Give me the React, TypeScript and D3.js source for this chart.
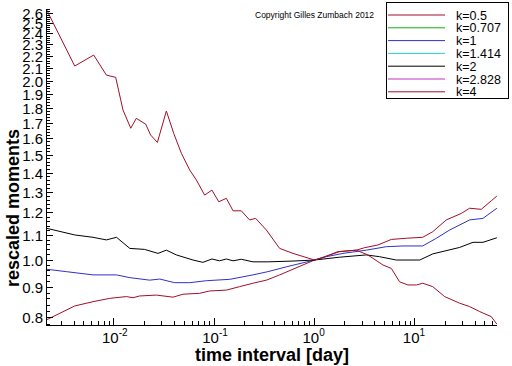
import React from 'react';
import * as d3 from 'd3';

// time interval [day] vs rescaled moment, one array per k
const k05: [number, number][] = [
  [0.00212, 0.793], [0.00406, 0.837], [0.00618, 0.851], [0.00906, 0.862], [0.0133, 0.868],
  [0.0155, 0.864], [0.018, 0.87], [0.0265, 0.873], [0.0388, 0.866], [0.0488, 0.876],
  [0.0715, 0.879], [0.0899, 0.887], [0.132, 0.89], [0.179, 0.902], [0.243, 0.914],
  [0.331, 0.925], [0.449, 0.944], [1, 1.0], [1.26, 1.013], [1.78, 1.033], [2.61, 1.039],
  [3.16, 1.049], [4.29, 1.06], [5.83, 1.083], [8.22, 1.088], [12.0, 1.092], [15.1, 1.116],
  [20.6, 1.168], [29.1, 1.198], [35.2, 1.222], [46.0, 1.217], [57.9, 1.258], [65.8, 1.281],
];
const k1: [number, number][] = [
  [0.00212, 0.965], [0.00335, 0.956], [0.00618, 0.944], [0.0106, 0.944], [0.0144, 0.934],
  [0.0227, 0.925], [0.0286, 0.929], [0.0403, 0.916], [0.0569, 0.916], [0.0834, 0.923],
  [0.143, 0.928], [0.243, 0.944], [0.343, 0.956], [0.524, 0.974], [1, 1.0], [1.31, 1.013],
  [1.92, 1.026], [3.28, 1.039], [5.2, 1.053], [7.61, 1.056], [12.0, 1.056], [16.4, 1.088],
  [22.2, 1.123], [35.2, 1.168], [47.8, 1.175], [65.8, 1.222],
];
const k2: [number, number][] = [
  [0.00212, 1.131], [0.00406, 1.102], [0.00618, 1.092], [0.0084, 1.081], [0.0106, 1.092],
  [0.0144, 1.046], [0.0202, 1.042], [0.0275, 1.026], [0.0333, 1.039], [0.0419, 1.02],
  [0.0614, 1.0], [0.0771, 0.991], [0.0948, 1.004], [0.113, 0.997], [0.132, 1.004],
  [0.154, 0.997], [0.186, 1.003], [0.243, 0.993], [0.343, 0.993], [0.61, 0.996], [1, 1.0],
  [1.78, 1.011], [3.28, 1.02], [4.45, 1.013], [6.54, 1.0], [11.2, 1.0], [15.1, 1.024],
  [28.0, 1.05], [38.0, 1.071], [47.8, 1.071], [65.8, 1.09],
];
const k4: [number, number][] = [
  [0.00212, 2.64], [0.00406, 2.12], [0.00628, 2.212], [0.0084, 2.047], [0.0104, 2.029],
  [0.0123, 1.788], [0.0147, 1.666], [0.0167, 1.731], [0.0207, 1.693], [0.0232, 1.623],
  [0.0271, 1.577], [0.0333, 1.781], [0.0394, 1.634], [0.047, 1.512], [0.0569, 1.417],
  [0.0664, 1.363], [0.0802, 1.286], [0.0948, 1.311], [0.111, 1.253], [0.132, 1.27],
  [0.154, 1.21], [0.186, 1.21], [0.225, 1.168], [0.259, 1.175], [0.331, 1.123],
  [0.449, 1.046], [0.61, 1.026], [1, 1.0], [1.17, 1.007], [1.71, 1.033], [2.61, 1.039],
  [3.4, 1.02], [4.81, 0.981], [5.83, 0.968], [7.05, 0.919], [8.53, 0.908], [10.4, 0.908],
  [12.0, 0.914], [15.1, 0.902], [19.8, 0.868], [28.0, 0.846], [35.2, 0.835], [44.3, 0.819],
  [57.9, 0.803], [65.8, 0.78],
];
// no points visible for these in the picture
const k0707: [number, number][] = [];
const k1414: [number, number][] = [];
const k2828: [number, number][] = [];

const legendLabels = ['k=0.5', 'k=0.707', 'k=1', 'k=1.414', 'k=2', 'k=2.828', 'k=4'];
const legendColors = ['#a0102a', '#10b010', '#3030c8', '#20d0d0', '#000000', '#c030c0', '#a0102a'];
const seriesData = [k05, k0707, k1, k1414, k2, k2828, k4];

const yTickValues = [0.8, 0.9, 1.0, 1.1, 1.2, 1.3, 1.4, 1.5, 1.6, 1.7, 1.8, 1.9, 2.0, 2.1, 2.2, 2.3, 2.4, 2.5, 2.6];
const xDecades = [-2, -1, 0, 1];

const W = 512;
const H = 366;
const left = 46, right = 497, top = 9, bottom = 325;

const App = () => {
  const x = d3.scaleLog().domain([0.0021, 66]).range([left, right]);
  const y = d3.scaleLog().domain([0.7775, 2.644]).range([bottom, top]);

  const line = d3.line<[number, number]>()
    .x(d => x(d[0]))
    .y(d => y(d[1]));

  // minor ticks
  const yMinor = d3.range(78, 265, 2).map(v => v / 100).filter(v => v >= 0.7775 && v <= 2.644);
  const xMinor: number[] = [];
  for (let e = -3; e <= 1; e++) {
    for (let m = 2; m <= 9; m++) {
      const v = m * Math.pow(10, e);
      if (v >= 0.0021 && v <= 66) xMinor.push(v);
    }
  }

  const font = 'Arial, "Liberation Sans", sans-serif';

  return (
    <svg width={W} height={H} style={{position: 'absolute', left: 0, top: 0, background: '#fff'}}
      fontFamily={font}>
      <rect x={0} y={0} width={W} height={H} fill='#fff' />

      {/* curves */}
      <g fill='none' strokeWidth={1}>
        {seriesData.map((d, i) => d.length ? (
          <path key={i} d={line(d) || ''} stroke={legendColors[i]} />
        ) : null)}
      </g>

      {/* y axis */}
      <g shapeRendering='crispEdges' stroke='#000'>
        <line x1={left} x2={left} y1={top} y2={bottom} />
        {yMinor.map(v => (
          <line key={'ym' + v} x1={left} x2={left + 4} y1={y(v)} y2={y(v)} />
        ))}
        {yTickValues.map(v => (
          <line key={'yM' + v} x1={left} x2={left + 7} y1={y(v)} y2={y(v)} />
        ))}
      </g>
      <g fontSize={15} textAnchor='end' fill='#000'>
        {yTickValues.map(v => (
          <text key={'yl' + v} x={43} y={y(v) + 5.5}>{v.toFixed(1)}</text>
        ))}
      </g>

      {/* x axis */}
      <g shapeRendering='crispEdges' stroke='#000'>
        <line x1={left} x2={right} y1={bottom} y2={bottom} />
        {xMinor.map(v => (
          <line key={'xm' + v} x1={x(v)} x2={x(v)} y1={bottom} y2={bottom - 4} />
        ))}
        {xDecades.map(e => (
          <line key={'xM' + e} x1={x(Math.pow(10, e))} x2={x(Math.pow(10, e))} y1={bottom} y2={bottom - 7} />
        ))}
      </g>
      <g fill='#000'>
        {xDecades.map(e => (
          <text key={'xl' + e} x={x(Math.pow(10, e)) - 12} y={343} fontSize={15}>
            10<tspan fontSize={10} dy={-7}>{e}</tspan>
          </text>
        ))}
      </g>

      {/* axis titles */}
      <text x={272} y={361} textAnchor='middle' fontSize={18} fontWeight='bold'>time interval [day]</text>
      <text transform='translate(19,208) rotate(-90)' textAnchor='middle' fontSize={18} fontWeight='bold'>rescaled moments</text>

      <text x={255} y={18} fontSize={8.5}>Copyright Gilles Zumbach 2012</text>

      {/* legend */}
      <g>
        <rect x={386.5} y={2.5} width={122} height={96} fill='#fff' stroke='#000' shapeRendering='crispEdges' />
        {legendLabels.map((lab, i) => (
          <g key={lab}>
            <line x1={388} x2={445} y1={15 + i * 12.8} y2={15 + i * 12.8} stroke={legendColors[i]} />
            <text x={456} y={15 + i * 12.8 + 4.5} fontSize={12.5}>{lab}</text>
          </g>
        ))}
      </g>
    </svg>
  );
};

export default App;
